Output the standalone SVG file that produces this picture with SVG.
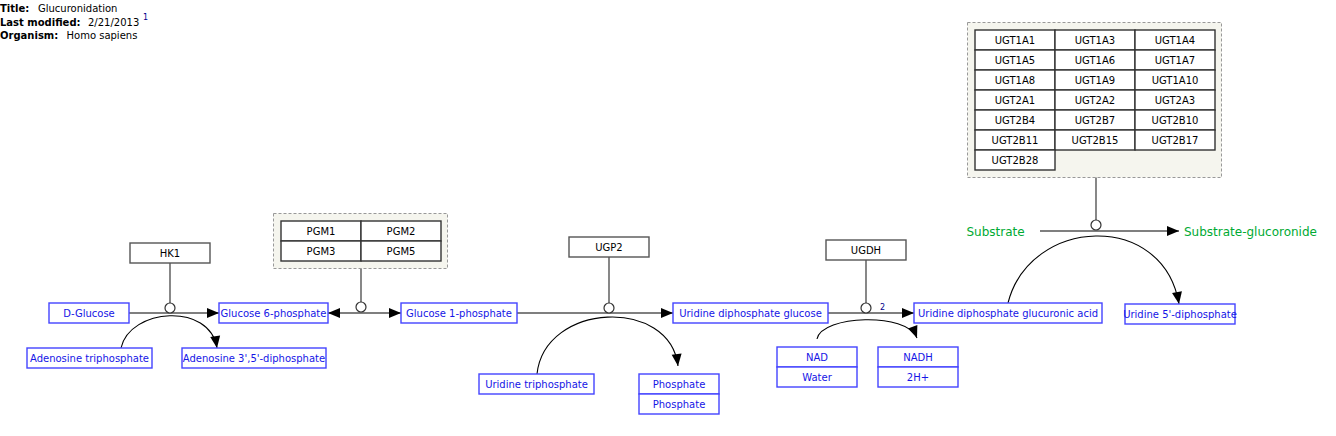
<svg xmlns="http://www.w3.org/2000/svg" width="1336" height="436" viewBox="0 0 1336 436">
<style>
text{font-family:"DejaVu Sans","Liberation Sans",sans-serif;font-size:10px}
.hb{font-weight:bold;fill:#000}
.hv{fill:#000}
.mn rect{fill:#fff;stroke:#4444ff;stroke-width:1.4}
.mn text{fill:#1515e6;text-anchor:middle}
.gn rect{fill:#fff;stroke:#555;stroke-width:1.4}
.gn text{fill:#000;text-anchor:middle}
.grp{fill:#f5f5ee;stroke:#999;stroke-width:1;stroke-dasharray:3,2}
.cell rect{fill:#fff;stroke:#333;stroke-width:1.4}
.cell text{fill:#000;text-anchor:middle}
.lab{fill:#00aa33;font-size:12px}
.main{fill:none;stroke:#555;stroke-width:1.4}
.curve{fill:none;stroke:#000;stroke-width:1.1}
.anc{fill:#fff;stroke:#333;stroke-width:1.2}
</style>
<defs>
<marker id="arr" markerUnits="userSpaceOnUse" markerWidth="13" markerHeight="10" refX="12" refY="5" orient="auto-start-reverse" overflow="visible">
<path d="M0,0 L12,5 L0,10 z" fill="#000"/>
</marker>
</defs>

<g id="header">
<text class="hb" x="0" y="12">Title:</text>
<text class="hv" x="38" y="12">Glucuronidation</text>
<text class="hb" x="0" y="25.5">Last modified:</text>
<text class="hv" x="88" y="25.5">2/21/2013</text>
<text x="143" y="20" style="font-size:8px;fill:#00008b">1</text>
<text class="hb" x="0" y="39">Organism:</text>
<text class="hv" x="66.5" y="39">Homo sapiens</text>
</g>

<g id="connectors">
<path class="main" d="M129,313 H219" marker-end="url(#arr)"/>
<path class="main" d="M170,263 V303"/>
<path class="curve" d="M121,348 C130,308 210,302 217,348" marker-end="url(#arr)"/>
<circle class="anc" cx="170" cy="308" r="5"/>

<path class="main" d="M328,313 H401" marker-start="url(#arr)" marker-end="url(#arr)"/>
<path class="main" d="M361,268 V302"/>
<circle class="anc" cx="361" cy="307" r="5"/>

<path class="main" d="M517,313 H673" marker-end="url(#arr)"/>
<path class="main" d="M609,257 V303"/>
<path class="curve" d="M537,374 C545,302 670,297 678,366" marker-end="url(#arr)"/>
<circle class="anc" cx="609" cy="308" r="5"/>

<path class="main" d="M828,313 H914" marker-end="url(#arr)"/>
<path class="main" d="M866,260 V303"/>
<path class="curve" d="M817,339 C822,315 907,312 917,338" marker-end="url(#arr)"/>
<circle class="anc" cx="866" cy="308" r="5"/>
<text x="882.5" y="310" style="font-size:8px;fill:#00008b;text-anchor:middle">2</text>

<path class="main" d="M1040,231 H1179" marker-end="url(#arr)"/>
<path class="main" d="M1096,177 V220"/>
<path class="curve" d="M1008,303 C1030,217 1163,210 1179,304" marker-end="url(#arr)"/>
<circle class="anc" cx="1096" cy="225" r="5"/>
</g>

<g id="n-dglucose" class="mn"><rect x="49" y="303" width="80" height="20"/><text x="89" y="316.5">D-Glucose</text></g>
<g id="n-g6p" class="mn"><rect x="219" y="303" width="109" height="20"/><text x="273.5" y="316.5">Glucose 6-phosphate</text></g>
<g id="n-g1p" class="mn"><rect x="401" y="303" width="116" height="20"/><text x="459" y="316.5">Glucose 1-phosphate</text></g>
<g id="n-udpg" class="mn"><rect x="673" y="303" width="155" height="20"/><text x="750.5" y="316.5">Uridine diphosphate glucose</text></g>
<g id="n-udpga" class="mn"><rect x="914" y="303" width="188" height="20"/><text x="1008" y="316.5">Uridine diphosphate glucuronic acid</text></g>
<g id="n-udp" class="mn"><rect x="1125" y="304" width="110" height="20"/><text x="1180" y="317.5">Uridine 5'-diphosphate</text></g>
<g id="n-atp" class="mn"><rect x="27" y="348" width="125" height="20"/><text x="89.5" y="361.5">Adenosine triphosphate</text></g>
<g id="n-pap" class="mn"><rect x="182" y="348" width="144" height="20"/><text x="254" y="361.5">Adenosine 3',5'-diphosphate</text></g>
<g id="n-utp" class="mn"><rect x="479" y="374" width="115" height="20"/><text x="536.5" y="387.5">Uridine triphosphate</text></g>
<g id="n-pi1" class="mn"><rect x="639" y="374" width="80" height="20"/><text x="679" y="387.5">Phosphate</text></g>
<g id="n-pi2" class="mn"><rect x="639" y="394" width="80" height="20"/><text x="679" y="407.5">Phosphate</text></g>
<g id="n-nad" class="mn"><rect x="777" y="347" width="80" height="20"/><text x="817" y="360.5">NAD</text></g>
<g id="n-water" class="mn"><rect x="777" y="367" width="80" height="20"/><text x="817" y="380.5">Water</text></g>
<g id="n-nadh" class="mn"><rect x="878" y="347" width="80" height="20"/><text x="918" y="360.5">NADH</text></g>
<g id="n-2h" class="mn"><rect x="878" y="367" width="80" height="20"/><text x="918" y="380.5">2H+</text></g>

<g id="g-hk1" class="gn"><rect x="130" y="243" width="80" height="20"/><text x="170" y="256.5">HK1</text></g>
<g id="g-ugp2" class="gn"><rect x="569" y="237" width="80" height="20"/><text x="609" y="250.5">UGP2</text></g>
<g id="g-ugdh" class="gn"><rect x="826" y="240" width="80" height="20"/><text x="866" y="253.5">UGDH</text></g>

<g id="grp-pgm">
<rect class="grp" x="273.5" y="213.5" width="174" height="55"/>
<g class="cell">
<rect x="281" y="221" width="80" height="20"/><text x="321" y="234.5">PGM1</text>
<rect x="361" y="221" width="80" height="20"/><text x="401" y="234.5">PGM2</text>
<rect x="281" y="241" width="80" height="20"/><text x="321" y="254.5">PGM3</text>
<rect x="361" y="241" width="80" height="20"/><text x="401" y="254.5">PGM5</text>
</g>
</g>

<g id="grp-ugt">
<rect class="grp" x="967.5" y="22.5" width="254" height="155"/>
<g class="cell">
<rect x="975" y="30" width="80" height="20"/><text x="1015" y="43.5">UGT1A1</text>
<rect x="1055" y="30" width="80" height="20"/><text x="1095" y="43.5">UGT1A3</text>
<rect x="1135" y="30" width="80" height="20"/><text x="1175" y="43.5">UGT1A4</text>
<rect x="975" y="50" width="80" height="20"/><text x="1015" y="63.5">UGT1A5</text>
<rect x="1055" y="50" width="80" height="20"/><text x="1095" y="63.5">UGT1A6</text>
<rect x="1135" y="50" width="80" height="20"/><text x="1175" y="63.5">UGT1A7</text>
<rect x="975" y="70" width="80" height="20"/><text x="1015" y="83.5">UGT1A8</text>
<rect x="1055" y="70" width="80" height="20"/><text x="1095" y="83.5">UGT1A9</text>
<rect x="1135" y="70" width="80" height="20"/><text x="1175" y="83.5">UGT1A10</text>
<rect x="975" y="90" width="80" height="20"/><text x="1015" y="103.5">UGT2A1</text>
<rect x="1055" y="90" width="80" height="20"/><text x="1095" y="103.5">UGT2A2</text>
<rect x="1135" y="90" width="80" height="20"/><text x="1175" y="103.5">UGT2A3</text>
<rect x="975" y="110" width="80" height="20"/><text x="1015" y="123.5">UGT2B4</text>
<rect x="1055" y="110" width="80" height="20"/><text x="1095" y="123.5">UGT2B7</text>
<rect x="1135" y="110" width="80" height="20"/><text x="1175" y="123.5">UGT2B10</text>
<rect x="975" y="130" width="80" height="20"/><text x="1015" y="143.5">UGT2B11</text>
<rect x="1055" y="130" width="80" height="20"/><text x="1095" y="143.5">UGT2B15</text>
<rect x="1135" y="130" width="80" height="20"/><text x="1175" y="143.5">UGT2B17</text>
<rect x="975" y="150" width="80" height="20"/><text x="1015" y="163.5">UGT2B28</text>
</g>
</g>

<g id="lbl-substrate"><text class="lab" x="966.5" y="235.5">Substrate</text></g>
<g id="lbl-substrate-gluc"><text class="lab" x="1184" y="235.5">Substrate-glucoronide</text></g>
</svg>
